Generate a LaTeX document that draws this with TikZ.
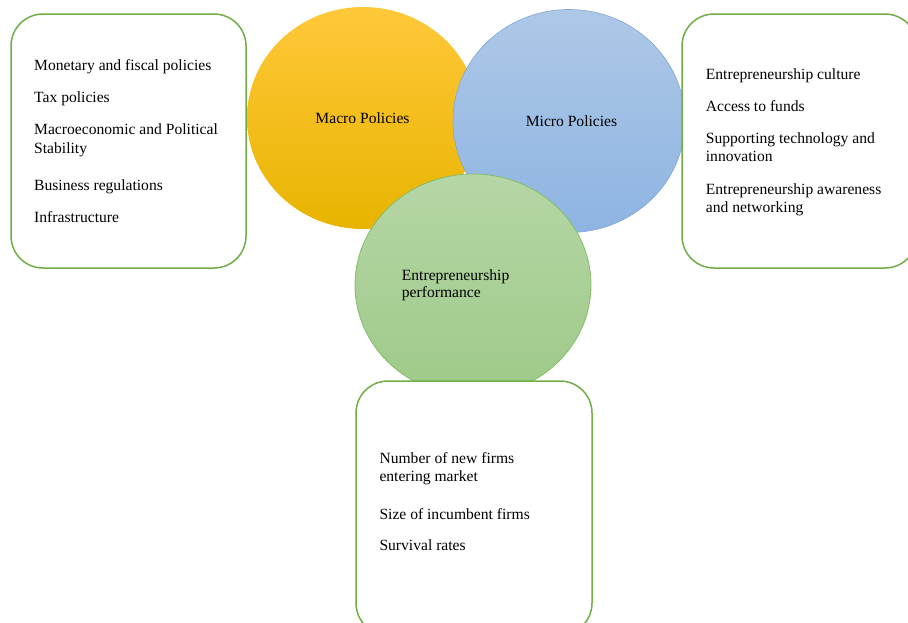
\documentclass[tikz,border=0pt]{standalone}
\usepackage{fontspec}
\setmainfont{Liberation Serif}
\usepackage{tikz}
\usetikzlibrary{shapes.geometric}
\definecolor{boxgreen}{HTML}{70AD47}
\definecolor{orangetop}{HTML}{FFC83A}
\definecolor{orangebot}{HTML}{E8B400}
\definecolor{bluetop}{HTML}{AEC8E7}
\definecolor{bluebot}{HTML}{8EB4E2}
\definecolor{blueline}{HTML}{7FA6D6}
\definecolor{greentop}{HTML}{B5D6A6}
\definecolor{greenbot}{HTML}{9ECA88}
\definecolor{greenline}{HTML}{86BC66}
\newcommand{\itemfont}{\fontsize{15.6}{19}\selectfont}

\begin{document}
\begin{tikzpicture}[x=1pt, y=-1pt,
	policy/.style={ellipse, inner sep=0pt, font=\itemfont},
	listbox/.style={rectangle, rounded corners=32pt, draw=boxgreen, line width=1.5pt, fill=white, minimum height=254pt},
	entry/.style={anchor=base west, inner sep=0pt, font=\itemfont}]
	\useasboundingbox (0,0) rectangle (908,622);
	\clip (0,0) rectangle (908,622);

	% the three circles
	\node[policy, top color=orangetop, bottom color=orangebot, minimum width=232pt, minimum height=222pt] (macro) at (363,118) {};
	\node[policy, top color=bluetop, bottom color=bluebot, draw=blueline, line width=0.6pt, minimum width=232pt, minimum height=223pt] (micro) at (569,121) {};
	\node[policy, top color=greentop, bottom color=greenbot, draw=greenline, line width=0.8pt, minimum width=236pt, minimum height=222pt] (perf) at (473,285) {};
	\node[entry, anchor=base] (macro-label) at (362.5,123.3) {Macro Policies};
	\node[entry, anchor=base] (micro-label) at (571.5,126.7) {Micro Policies};
	\node[entry] (perf-label-1) at (401.7,280) {Entrepreneurship};
	\node[entry] (perf-label-2) at (401.7,297.7) {performance};

	% the three boxes
	\node[listbox, minimum width=235pt] (macrobox) at (128.5,141) {};
	\node[listbox, minimum width=235pt] (microbox) at (799.5,141) {};
	\node[listbox, minimum width=236pt] (perfbox) at (474,508) {};

	\foreach \y/\txt [count=\i] in {70.5/Monetary and fiscal policies, 102/Tax policies, 134/Macroeconomic and Political, 153/Stability, 190/Business regulations, 222/Infrastructure}
		\node[entry] (macro-item-\i) at (34,\y) {\txt};
	\foreach \y/\txt [count=\i] in {79.3/Entrepreneurship culture, 111/Access to funds, 143.3/Supporting technology and, 161.7/innovation, 194.3/Entrepreneurship awareness, 212.3/and networking}
		\node[entry] (micro-item-\i) at (705.7,\y) {\txt};
	\foreach \y/\txt [count=\i] in {463.3/Number of new firms, 481.7/entering market, 519.3/Size of incumbent firms, 550.7/Survival rates}
		\node[entry] (perf-item-\i) at (379.3,\y) {\txt};
\end{tikzpicture}
\end{document}
